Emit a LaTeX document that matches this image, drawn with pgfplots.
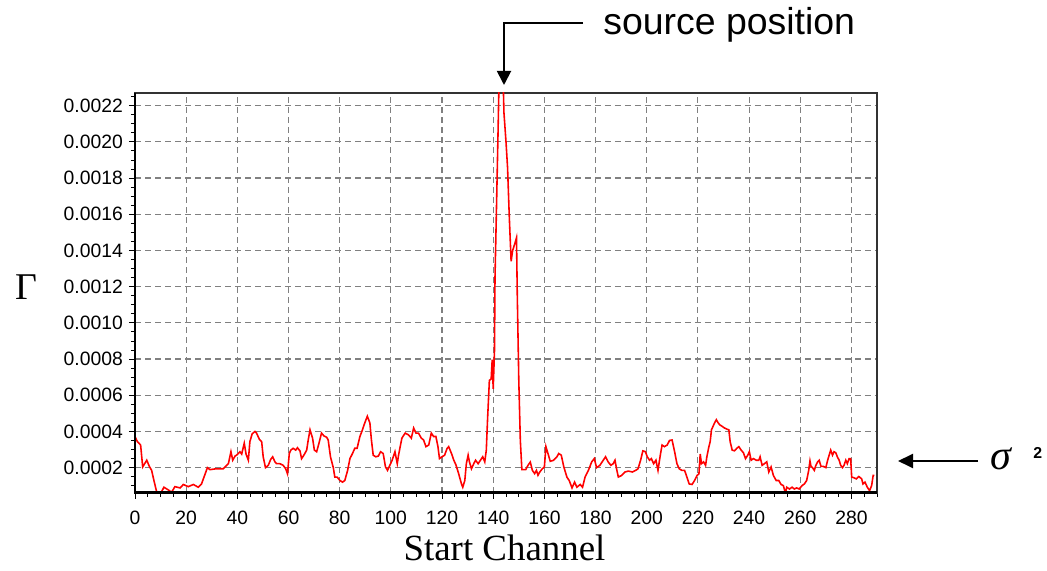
\documentclass[border=0pt]{standalone}
\usepackage{fontspec}
\setmainfont{Liberation Sans}
\newfontfamily\seriffont{Liberation Serif}
\usepackage{pgfplots}
\usepackage{pgfplotstable}
\pgfplotsset{compat=1.18}
\usetikzlibrary{calc,arrows.meta}

% Gamma vs start channel
\pgfplotstableread{
x y
0 3.72e-4
0.9 3.44e-4
2.2 3.25e-4
3.0 2.04e-4
4.6 2.41e-4
5.6 2.07e-4
6.5 1.85e-4
7.4 1.29e-4
8.5 0.64e-4
9.4 0.58e-4
10.4 0.67e-4
11.3 0.92e-4
13.0 0.77e-4
14.3 0.64e-4
15.6 0.95e-4
17.6 0.88e-4
18.9 1.07e-4
20.8 0.95e-4
22.8 1.07e-4
24.7 0.92e-4
26.0 1.10e-4
28.3 2.00e-4
29.3 1.89e-4
31.3 1.93e-4
34.5 1.94e-4
36.5 2.22e-4
37.5 2.88e-4
38.2 2.41e-4
39.1 2.64e-4
39.7 2.69e-4
41.0 2.88e-4
41.7 2.75e-4
42.7 3.35e-4
43.4 2.75e-4
44.3 2.41e-4
44.9 3.44e-4
45.8 3.87e-4
46.9 4.00e-4
47.5 3.91e-4
48.6 3.57e-4
49.5 3.44e-4
50.1 2.60e-4
51.0 2.00e-4
52.1 2.13e-4
53.0 2.45e-4
53.8 2.60e-4
54.7 2.32e-4
55.3 2.22e-4
56.6 2.22e-4
57.9 2.13e-4
58.9 1.94e-4
59.6 1.66e-4
60.3 2.78e-4
60.9 2.97e-4
61.8 3.07e-4
62.8 2.97e-4
63.5 3.10e-4
64.5 2.92e-4
65.1 2.50e-4
66.0 2.69e-4
67.1 2.97e-4
67.7 3.53e-4
68.4 4.09e-4
69.4 3.63e-4
70.1 2.97e-4
71.0 2.88e-4
71.9 3.35e-4
72.9 3.91e-4
73.8 3.76e-4
74.9 3.68e-4
75.5 3.53e-4
76.4 2.60e-4
77.5 2.00e-4
78.1 1.48e-4
79.0 1.48e-4
80.1 1.29e-4
81.1 1.20e-4
82.0 1.29e-4
83.1 1.85e-4
84.0 2.50e-4
85.0 2.78e-4
85.9 3.07e-4
86.8 3.07e-4
87.9 3.72e-4
88.9 4.09e-4
89.8 4.47e-4
90.8 4.84e-4
91.8 4.47e-4
92.4 3.53e-4
93.1 2.69e-4
94.1 2.60e-4
95.1 2.64e-4
96.0 2.88e-4
97.0 2.78e-4
97.9 2.04e-4
98.7 1.85e-4
99.6 2.13e-4
100.5 2.41e-4
101.6 2.88e-4
102.5 2.22e-4
103.0 2.69e-4
104.3 3.63e-4
105.6 3.91e-4
106.9 3.81e-4
108.0 3.63e-4
108.9 4.19e-4
109.8 3.91e-4
110.8 3.91e-4
111.9 3.63e-4
112.8 3.53e-4
113.7 3.16e-4
114.8 3.25e-4
115.8 3.91e-4
116.7 3.72e-4
117.6 3.72e-4
118.4 3.16e-4
119.0 2.50e-4
120.0 2.60e-4
121.0 2.69e-4
122.0 3.07e-4
122.6 3.16e-4
123.7 2.78e-4
124.6 2.41e-4
125.5 2.13e-4
126.5 1.66e-4
127.6 1.10e-4
128.1 0.92e-4
128.9 1.29e-4
129.5 2.22e-4
130.2 2.69e-4
130.7 2.32e-4
131.5 1.94e-4
132.4 2.22e-4
133.1 2.41e-4
134.1 2.22e-4
135.0 2.41e-4
135.9 2.60e-4
136.7 2.32e-4
137.3 2.97e-4
137.8 4.70e-4
138.5 6.82e-4
139.2 6.90e-4
139.6 7.96e-4
140.0 6.36e-4
140.5 8.47e-4
140.7 12.5e-4
141.3 16.5e-4
141.9 20.6e-4
142.5 25.0e-4
143.6 25.0e-4
144.2 21.6e-4
145.0 20.0e-4
145.6 18.6e-4
146.3 15.8e-4
147.0 13.4e-4
147.6 14.0e-4
148.5 14.4e-4
149.1 14.7e-4
149.4 11.6e-4
150.0 6.8e-4
150.6 3.5e-4
151.2 1.89e-4
152.7 1.89e-4
153.6 2.13e-4
154.5 2.31e-4
155.3 1.85e-4
156.2 1.67e-4
156.9 1.85e-4
157.5 1.58e-4
158.2 1.76e-4
159.2 1.94e-4
160.0 2.04e-4
160.6 3.16e-4
161.4 2.78e-4
162.3 2.35e-4
163.6 2.41e-4
164.9 2.60e-4
165.6 2.78e-4
166.6 2.69e-4
167.6 2.04e-4
168.8 1.48e-4
169.7 1.29e-4
170.8 0.88e-4
171.8 1.20e-4
172.7 0.92e-4
174.0 1.07e-4
174.9 0.92e-4
175.9 1.48e-4
177.2 1.85e-4
178.5 2.32e-4
179.5 2.50e-4
180.4 2.00e-4
181.7 2.13e-4
183.0 2.41e-4
183.9 2.60e-4
184.9 2.32e-4
186.0 2.13e-4
186.9 2.22e-4
187.6 2.41e-4
188.2 1.94e-4
188.9 1.48e-4
190.2 1.57e-4
191.5 1.76e-4
192.8 1.81e-4
194.4 1.76e-4
195.7 1.85e-4
196.6 1.94e-4
197.6 2.41e-4
198.5 2.93e-4
199.5 2.88e-4
200.2 2.60e-4
201.1 2.41e-4
201.8 2.50e-4
202.7 2.22e-4
203.6 2.41e-4
204.4 1.85e-4
205.3 2.69e-4
206.0 3.25e-4
206.9 3.16e-4
208.0 3.25e-4
208.9 3.50e-4
209.9 3.53e-4
210.9 2.88e-4
211.8 2.22e-4
212.7 1.94e-4
213.7 1.85e-4
214.8 1.85e-4
215.7 1.48e-4
216.6 1.10e-4
217.7 1.07e-4
218.7 1.29e-4
219.7 1.57e-4
220.4 1.66e-4
220.9 2.75e-4
221.4 2.22e-4
222.2 2.32e-4
223.0 2.13e-4
223.5 2.60e-4
224.3 3.16e-4
224.8 3.44e-4
225.3 4.09e-4
225.9 4.28e-4
226.5 4.47e-4
227.2 4.65e-4
227.8 4.50e-4
228.5 4.37e-4
229.5 4.28e-4
230.4 4.19e-4
231.3 4.13e-4
232.1 4.09e-4
232.6 3.44e-4
233.4 2.97e-4
234.3 2.93e-4
235.2 3.07e-4
236.0 3.16e-4
236.9 2.97e-4
237.8 2.82e-4
238.6 2.50e-4
239.5 2.69e-4
240.1 2.88e-4
240.8 2.41e-4
241.7 2.50e-4
242.8 2.41e-4
243.8 2.41e-4
244.3 2.60e-4
245.1 2.13e-4
246.0 2.22e-4
246.9 2.32e-4
247.7 1.76e-4
248.6 2.04e-4
249.5 1.57e-4
250.6 1.29e-4
251.6 1.29e-4
252.5 1.07e-4
253.4 1.01e-4
254.2 0.58e-4
254.7 0.92e-4
255.8 0.82e-4
256.8 0.92e-4
257.7 0.82e-4
258.6 0.88e-4
259.6 0.82e-4
260.7 1.01e-4
261.6 1.10e-4
262.5 1.29e-4
263.3 1.85e-4
263.8 2.37e-4
264.2 2.07e-4
264.8 2.00e-4
265.5 1.85e-4
266.1 2.13e-4
266.8 2.32e-4
267.4 2.41e-4
268.1 2.07e-4
269.0 2.07e-4
270.0 2.00e-4
270.7 2.41e-4
271.3 2.69e-4
271.9 2.97e-4
272.6 2.69e-4
273.2 2.88e-4
273.9 2.82e-4
274.5 2.60e-4
275.2 2.41e-4
275.8 2.13e-4
276.5 2.00e-4
277.1 2.13e-4
277.8 2.41e-4
278.4 2.22e-4
279.1 2.50e-4
279.7 2.50e-4
280.1 1.48e-4
281.0 1.44e-4
281.9 1.38e-4
282.9 1.51e-4
284.0 1.38e-4
284.5 1.10e-4
285.3 1.20e-4
286.2 0.92e-4
287.1 0.73e-4
287.9 1.01e-4
288.5 1.57e-4
289.0 1.57e-4
}\gammadata

\begin{document}
\begin{tikzpicture}
  \begin{axis}[
      name=ax,
      scale only axis,
      width=14.84cm, height=8cm,
      xmin=0, xmax=290,
      ymin=0.00006, ymax=0.00227,
      xtick={0,20,...,280},
      minor xtick={0,5,...,290},
      ytick={0.0002,0.0004,0.0006,0.0008,0.0010,0.0012,0.0014,0.0016,0.0018,0.0020,0.0022},
      minor ytick={0.0001,0.00015,0.0002,0.00025,0.0003,0.00035,0.0004,0.00045,0.0005,0.00055,
        0.0006,0.00065,0.0007,0.00075,0.0008,0.00085,0.0009,0.00095,0.001,0.00105,0.0011,0.00115,
        0.0012,0.00125,0.0013,0.00135,0.0014,0.00145,0.0015,0.00155,0.0016,0.00165,0.0017,0.00175,
        0.0018,0.00185,0.0019,0.00195,0.002,0.00205,0.0021,0.00215,0.0022,0.00225},
      scaled y ticks=false,
      yticklabel style={/pgf/number format/.cd, fixed, fixed zerofill, precision=4, assume math mode=true},
      xticklabel style={/pgf/number format/assume math mode=true, yshift=-0.12cm},
      tick label style={font=\fontsize{11}{13}\selectfont},
      tick align=outside,
      xtick pos=bottom, ytick pos=left,
      major tick length=0.12cm, minor tick length=0.08cm,
      tick style={black, line width=0.5pt},
      grid=major,
      major grid style={gray, line width=0.65pt, dash pattern=on 0.12cm off 0.08cm},
      axis line style={draw=black!80, line width=1.1pt},
    ]
    \addplot[red, line width=0.9pt] table {\gammadata};
    \coordinate (SW) at (rel axis cs:0,0);
    \coordinate (NE) at (rel axis cs:1,1);
  \end{axis}
  % heavier left and bottom axis lines
  \draw[line width=1.7pt, black] (SW|-NE) -- (SW) -- (SW-|NE);

  % source position marker
  \draw[line width=1.1pt, -{Triangle[length=0.28cm, width=0.28cm]}]
    ($(SW)+(8.96,9.4)$) -- ($(SW)+(7.38,9.4)$) -- ($(SW)+(7.38,8.16)$);
  \node[anchor=base west, inner sep=0, font=\fontsize{21.3}{25}\selectfont]
    at ($(SW)+(9.36,9.16)$) {source position};

  % sigma^2 marker
  \draw[line width=1.1pt, -{Triangle[length=0.3cm, width=0.28cm]}]
    ($(SW)+(16.86,0.64)$) -- ($(SW)+(15.26,0.64)$);
  \node[anchor=base west, inner sep=0, font=\seriffont\itshape\fontsize{24}{28}\selectfont]
    at ($(SW)+(17.1,0.46)$) {σ};
  \node[anchor=south west, inner sep=0, font=\bfseries\fontsize{9}{10}\selectfont]
    at ($(SW)+(17.96,0.68)$) {2};

  % axis titles
  \node[anchor=base west, inner sep=0, font=\seriffont\fontsize{21.5}{25}\selectfont]
    at ($(SW)+(-2.4,3.86)$) {Γ};
  \node[anchor=base, inner sep=0, font=\seriffont\fontsize{21}{25}\selectfont]
    at ($(SW)+(7.39,-1.36)$) {Start Channel};

  \pgfresetboundingbox
  \path[use as bounding box] ($(SW)+(-2.7,-1.56)$) rectangle ($(NE)+(3.4,1.86)$);
\end{tikzpicture}
\end{document}
